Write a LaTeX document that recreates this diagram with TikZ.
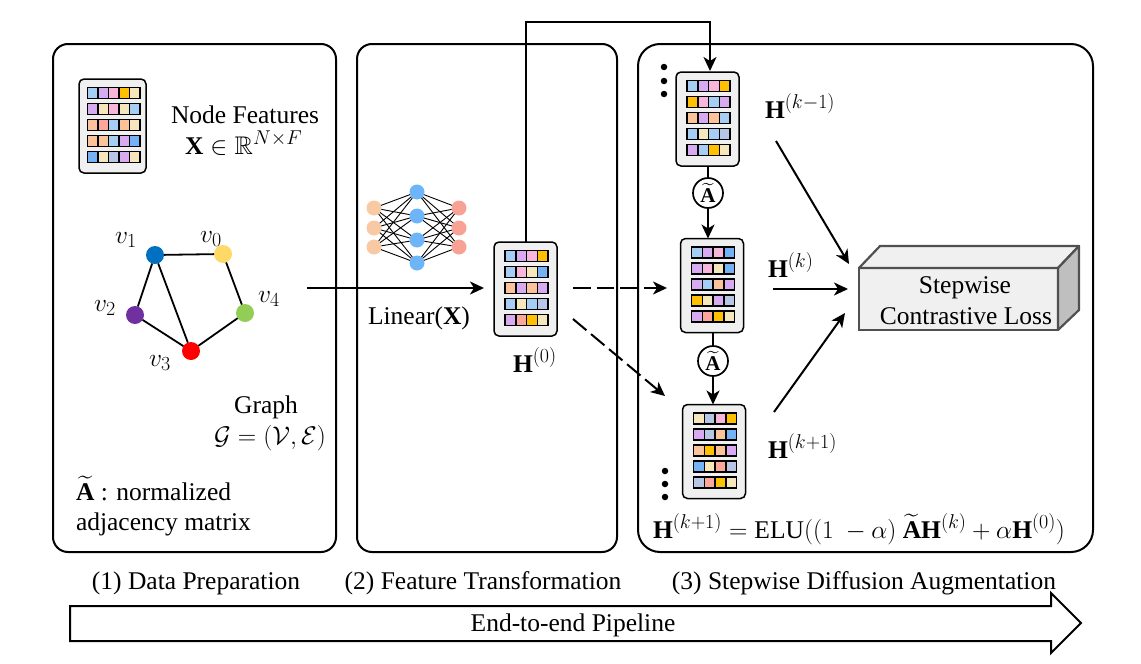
\RequirePackage{fix-cm}
\documentclass[tikz,border=0pt]{standalone}
\usepackage{amsmath,amssymb}
\usepackage{fontspec}
\setmainfont{Liberation Serif}
\usetikzlibrary{arrows.meta}
\DeclareMathSizes{25.5}{25.5}{20}{16}
\DeclareMathSizes{21}{21}{16}{12}
\definecolor{cB}{HTML}{A6CEF5}
\definecolor{cP}{HTML}{D8AAF2}
\definecolor{cK}{HTML}{F8B6DA}
\definecolor{cO}{HTML}{FFC000}
\definecolor{cC}{HTML}{F5E6BC}
\definecolor{cS}{HTML}{FBA79B}
\definecolor{cA}{HTML}{FCC39B}
\definecolor{cD}{HTML}{74B2F5}
\definecolor{cG}{HTML}{B6C6E4}
\definecolor{gblue}{HTML}{0070C0}
\definecolor{gyellow}{HTML}{FFD966}
\definecolor{gpurple}{HTML}{7030A0}
\definecolor{ggreen}{HTML}{92CD55}
\definecolor{npeach}{HTML}{F9C9A3}
\definecolor{nblue}{HTML}{6DB5F8}
\definecolor{nred}{HTML}{F8A296}
\definecolor{boxedge}{HTML}{505050}
\tikzset{
  panel/.style={draw=black,line width=2pt,rounded corners=#1,inner sep=0pt,outer sep=0pt},
  cardbox/.style={draw=black,fill=black!6,line width=1.5pt,rounded corners=5pt,inner sep=0pt,outer sep=0pt,anchor=north west,minimum height=94pt},
  conn/.style={line width=2pt,-{Stealth[length=14pt,width=13pt,inset=4pt]}},
  plainline/.style={line width=2pt},
  dashconn/.style={conn,dash pattern=on 17.5pt off 6pt},
  gnode/.style={circle,inner sep=0pt,outer sep=0pt,minimum size=18pt,fill=#1},
  gedge/.style={line width=1.8pt},
  nnode/.style={circle,inner sep=0pt,outer sep=0pt,minimum size=15pt,fill=#1},
  nedge/.style={line width=0.9pt},
  opnode/.style={circle,draw=black,fill=white,line width=1.7pt,minimum size=30pt,inner sep=0pt,outer sep=0pt,font=\fontsize{21}{24}\selectfont},
  lbl/.style={inner sep=0pt,outer sep=0pt,anchor=base,font=\fontsize{25.5}{29}\selectfont},
  lbll/.style={lbl,anchor=base west},
  dotn/.style={circle,fill=black,inner sep=0pt,minimum size=6.5pt},
  boxface/.style={draw=boxedge,line width=2.2pt,line join=round},
}
\newcommand{\fcard}[7]{%
  \node[cardbox,minimum width=#4pt] (#1) at (#2,#3) {};
  \foreach \rws [count=\rw] in {#7} {
    \foreach \cl [count=\ci] in \rws {
      \draw[draw=black,line width=1.5pt,fill=c\cl] ({#2+#5+(\ci-1)*#6},{#3+8.5+(\rw-1)*16}) rectangle ++(#6,11);
    }
  }
}
\begin{document}
\begin{tikzpicture}[x=1pt,y=-1pt]
\useasboundingbox (0,0) rectangle (1141,664);
% panels
\node[panel=15pt,minimum width=283pt,minimum height=508pt] (p1) at (194.5,298) {};
\node[panel=15pt,minimum width=260pt,minimum height=508pt] (p2) at (487,298) {};
\node[panel=22pt,minimum width=455pt,minimum height=508pt] (p3) at (865.5,298) {};
% cards
\fcard{c0}{79}{79}{67}{8.5}{10.5}{{B,P,K,O,C},{P,C,K,C,B},{A,S,B,A,C},{A,A,B,P,D},{D,C,G,P,C}}
\fcard{h0}{494}{242}{63}{11}{10.75}{{B,P,K,O},{B,K,C,D},{A,P,A,P},{B,C,B,G},{P,S,O,C}}
\fcard{hm}{676}{72}{63}{11}{10.75}{{B,P,K,O},{O,K,B,P},{A,P,A,B},{B,C,B,G},{P,B,O,C}}
\fcard{hk}{680.5}{238.5}{63}{11}{10.75}{{B,P,K,D},{P,K,C,D},{P,B,A,P},{O,C,P,G},{P,S,O,C}}
\fcard{hp}{682.5}{404.5}{63}{11}{10.75}{{C,G,K,O},{P,G,A,D},{A,O,A,P},{D,C,S,G},{G,S,O,C}}
% panel 1 texts
\node[lbl] (tnf) at (245,123) {Node Features};
\node[lbll] (tx) at (185,154) {$\mathbf{X}\in\mathbb{R}^{N\times F}$};
\node[lbl] (tg) at (266,413) {Graph};
\node[lbl,anchor=base east] (tge) at (326,444) {$\mathcal{G}=(\mathcal{V},\mathcal{E})$};
\node[lbll] (ta) at (76,500) {$\widetilde{\mathbf{A}}$ : normalized};
\node[lbll] (tb) at (76,530) {adjacency matrix};
% graph
\node[gnode=gblue] (v1) at (155,255) {};
\node[gnode=gyellow] (v0) at (223,254) {};
\node[gnode=gpurple] (v2) at (135,315) {};
\node[gnode=red] (v3) at (191,351) {};
\node[gnode=ggreen] (v4) at (245,313) {};
\draw[gedge] (v1)--(v0) (v1)--(v2) (v1)--(v3) (v2)--(v3) (v3)--(v4) (v0)--(v4);
\node[lbl] (l1) at (126,243) {$v_1$};
\node[lbl] (l0) at (211,242) {$v_0$};
\node[lbl] (l4) at (269,302) {$v_4$};
\node[lbl] (l2) at (105,311) {$v_2$};
\node[lbl] (l3) at (160,366) {$v_3$};
% network
\foreach \n/\yy in {1/208,2/228,3/247} {
  \node[nnode=npeach] (a\n) at (374,\yy) {};
  \node[nnode=nred] (o\n) at (459,\yy) {};
}
\foreach \n/\yy in {1/192,2/216,3/240,4/263} {
  \node[nnode=nblue] (m\n) at (417,\yy) {};
}
\foreach \i in {1,2,3} \foreach \j in {1,2,3,4} {
  \draw[nedge] (a\i)--(m\j) (m\j)--(o\i);
}
% connectors panel 1-2
\coordinate (gout) at (307,288);
\coordinate (lin) at (484,288);
\draw[conn] (gout)--(lin);
\node[lbl] (tlin) at (419,324) {Linear($\mathbf{X}$)};
\node[lbll] (th0) at (513,372) {$\mathbf{H}^{(0)}$};
\coordinate (topl) at (h0.north |- 0,22);
\coordinate (topr) at (710,22);
\coordinate (tipm) at (710,71);
\draw[conn] (h0.north)--(topl)--(topr)--(tipm);
\coordinate (ds1) at (573,288);
\coordinate (de1) at (667,288);
\draw[dashconn] (ds1)--(de1);
\coordinate (ds2) at (573,319);
\coordinate (de2) at (665,396);
\draw[dashconn] (ds2)--(de2);
% diffusion
\node[opnode] (op1) at (708,193) {$\widetilde{\mathbf{A}}$};
\node[opnode] (op2) at (713,361) {$\widetilde{\mathbf{A}}$};
\draw[plainline] (op1.north |- hm.south)--(op1);
\draw[conn] (op1)--(op1 |- hk.north);
\draw[plainline] (op2.north |- hk.south)--(op2);
\draw[conn] (op2)--(op2 |- hp.north);
\foreach \n/\xx/\yy in {d1/664/67,d2/664/81,d3/664/94,d4/665/471,d5/665/484,d6/665/497} {
  \node[dotn] (\n) at (\xx,\yy) {};
}
% H labels
\node[lbll] (tk1) at (765,118) {$\mathbf{H}^{(k-1)}$};
\node[lbll] (tk2) at (768,277) {$\mathbf{H}^{(k)}$};
\node[lbll] (tk3) at (768,458) {$\mathbf{H}^{(k+1)}$};
% loss box
\node[inner sep=0pt,outer sep=0pt,minimum width=199pt,minimum height=62pt,anchor=north west,draw=boxedge,line width=2.2pt,fill=black!6] (loss) at (859,268) {};
\draw[boxface,fill=black!6] (loss.north west)--(880,246)--(1079,246)--(loss.north east)--cycle;
\draw[boxface,fill=black!25] (loss.north east)--(1079,246)--(1079,310)--(loss.south east)--cycle;
\node[lbl] (ls1) at (965,293) {Stepwise};
\node[lbl] (ls2) at (966,324) {Contrastive Loss};
\coordinate (a1s) at (776,141);
\coordinate (a1e) at (849,264);
\coordinate (a2s) at (773,289);
\coordinate (a2e) at (848,289);
\coordinate (a3s) at (774,412);
\coordinate (a3e) at (845,313);
\draw[conn] (a1s)--(a1e);
\draw[conn] (a2s)--(a2e);
\draw[conn] (a3s)--(a3e);
% formula
\node[lbll] (tf) at (653,538) {$\mathbf{H}^{(k+1)}=\mathrm{ELU}((1\ -\alpha)\ \widetilde{\mathbf{A}}\mathbf{H}^{(k)}+\alpha\mathbf{H}^{(0)})$};
% captions
\node[lbl] (cap1) at (196,589) {(1) Data Preparation};
\node[lbl] (cap2) at (483,589) {(2) Feature Transformation};
\node[lbl] (cap3) at (864,589) {(3) Stepwise Diffusion Augmentation};
% pipeline arrow
\draw[line width=2pt,line join=miter,fill=white] (70,606)--(1051,606)--(1051,593)--(1081,623)--(1051,653)--(1051,641)--(70,641)--cycle;
\node[lbl] (pipe) at (573,631) {End-to-end Pipeline};
\end{tikzpicture}
\end{document}
